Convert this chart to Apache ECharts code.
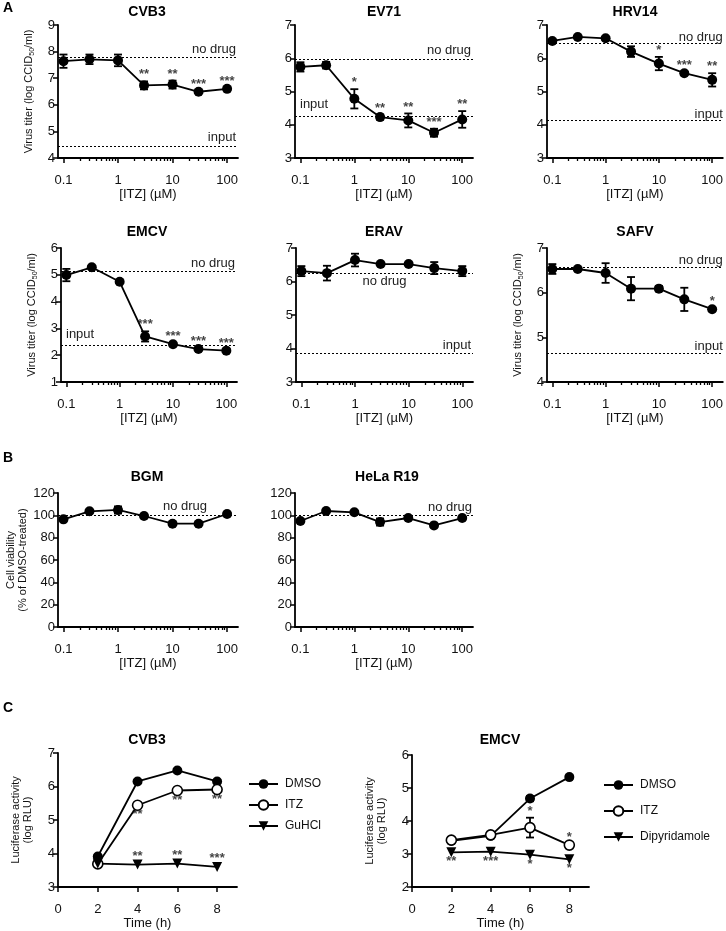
<!DOCTYPE html>
<html><head><meta charset="utf-8">
<script src="https://cdn.jsdelivr.net/npm/echarts@6/dist/echarts.min.js"></script>
<style>html,body{margin:0;padding:0;background:#fff}#c{width:726px;height:931px}</style>
</head><body><div id="c"></div><script>
const FONT = '"Liberation Sans", Arial, sans-serif';

// ---------- Data ----------
const conc = [0.1, 0.3, 1, 3, 10, 30, 100];
const concTickValues = [0.1, 1, 10, 100];
const concTickLabels = ['0.1', '1', '10', '100'];

const cvb3Titer = [7.64, 7.71, 7.67, 6.73, 6.76, 6.49, 6.60];
const cvb3Err   = [0.25, 0.18, 0.22, 0.15, 0.15, 0.05, 0.05];
const cvb3Stars = ['', '', '', '**', '**', '***', '***'];
const cvb3NoDrug = 7.78, cvb3Input = 4.45;

const ev71Titer = [5.74, 5.79, 4.78, 4.23, 4.13, 3.76, 4.16];
const ev71Err   = [0.14, 0.10, 0.29, 0.08, 0.21, 0.12, 0.25];
const ev71Stars = ['', '', '*', '**', '**', '***', '**'];
const ev71NoDrug = 5.97, ev71Input = 4.26;

const hrv14Titer = [6.52, 6.64, 6.60, 6.20, 5.84, 5.55, 5.35];
const hrv14Err   = [0.04, 0.03, 0.03, 0.16, 0.20, 0.05, 0.20];
const hrv14Stars = ['', '', '', '', '*', '***', '**'];
const hrv14NoDrug = 6.44, hrv14Input = 4.13;

const emcvTiter = [4.99, 5.28, 4.74, 2.70, 2.41, 2.23, 2.17];
const emcvErr   = [0.23, 0.03, 0.03, 0.19, 0.05, 0.05, 0.04];
const emcvStars = ['', '', '', '***', '***', '***', '***'];
const emcvNoDrug = 5.12, emcvInput = 2.36;

const eravTiter = [6.31, 6.25, 6.64, 6.52, 6.52, 6.40, 6.31];
const eravErr   = [0.15, 0.22, 0.19, 0.03, 0.03, 0.18, 0.15];
const eravStars = ['', '', '', '', '', '', ''];
const eravNoDrug = 6.25, eravInput = 3.85;

const safvTiter = [6.53, 6.53, 6.44, 6.09, 6.09, 5.85, 5.63];
const safvErr   = [0.11, 0.02, 0.22, 0.26, 0.06, 0.26, 0.02];
const safvStars = ['', '', '', '', '', '', '*'];
const safvNoDrug = 6.58, safvInput = 4.64;

const bgmViability = [96.4, 103.6, 104.8, 99.4, 92.5, 92.5, 101.2];
const bgmErr       = [1.0, 1.0, 3.2, 1.0, 1.0, 1.0, 1.0];
const helaViability = [94.9, 103.9, 102.7, 94.0, 97.6, 91.0, 97.6];
const helaErr       = [1.0, 1.0, 1.0, 3.2, 1.0, 1.0, 1.0];
const viabilityNoDrug = 100;

const timeH = [2, 4, 6, 8];
const timeTicks = [0, 2, 4, 6, 8];
const cCvb3DMSO  = [3.91, 6.15, 6.48, 6.15];
const cCvb3ITZ   = [3.69, 5.44, 5.88, 5.91];
const cCvb3GuHCl = [3.70, 3.67, 3.70, 3.60];
const cCvb3ITZStars   = ['', '**', '**', '**'];
const cCvb3GuHClStars = ['', '**', '**', '***'];

const cEmcvDMSO = [3.40, 3.55, 4.68, 5.33];
const cEmcvDMSOErr = [0, 0, 0.08, 0.05];
const cEmcvITZ  = [3.42, 3.58, 3.80, 3.27];
const cEmcvITZErr = [0, 0.04, 0.30, 0.05];
const cEmcvDip  = [3.05, 3.07, 2.98, 2.84];
const cEmcvITZStars = ['', '', '*', '*'];
const cEmcvDipStars = ['**', '***', '*', '*'];

// ---------- helpers ----------
const log10 = v => Math.log10(v);
const minorLog = [];
[-1, 0, 1].forEach(d => { for (let k = 2; k <= 9; k++) minorLog.push(Math.log10(k) + d); });

const grids = [], xAxes = [], yAxes = [], series = [];
const LW = 1.8;

function renderErr(params, api) {
  const x = api.value(0), lo = api.value(1), hi = api.value(2);
  const p1 = api.coord([x, lo]), p2 = api.coord([x, hi]);
  if (Math.abs(p1[1] - p2[1]) < 1) return null;
  const w = 4;
  const st = { stroke: '#000', lineWidth: LW };
  return { type: 'group', children: [
    { type: 'line', shape: { x1: p1[0], y1: p1[1], x2: p2[0], y2: p2[1] }, style: st },
    { type: 'line', shape: { x1: p1[0] - w, y1: p1[1], x2: p1[0] + w, y2: p1[1] }, style: st },
    { type: 'line', shape: { x1: p2[0] - w, y1: p2[1], x2: p2[0] + w, y2: p2[1] }, style: st }
  ]};
}

function errSeries(xi, yi, xs, ys, es) {
  return { type: 'custom', xAxisIndex: xi, yAxisIndex: yi, renderItem: renderErr, silent: true,
    encode: { x: 0, y: [1, 2] }, z: 2,
    data: xs.map((x, i) => [x, ys[i] - es[i], ys[i] + es[i]]) };
}

function starSeries(xi, yi, xs, ys, stars, pos, dist) {
  const data = [];
  xs.forEach((x, i) => { if (stars[i]) data.push([x, ys[i], stars[i]]); });
  return { type: 'scatter', xAxisIndex: xi, yAxisIndex: yi, symbolSize: 1, silent: true, z: 5,
    itemStyle: { color: 'rgba(0,0,0,0)' },
    label: { show: true, position: pos, distance: dist, formatter: p => p.value[2],
      color: '#111', fontSize: 13, fontWeight: 'bold', fontFamily: FONT, lineHeight: 10 },
    data };
}

function yAxisBase(gi, min, max, interval) {
  return { gridIndex: gi, type: 'value', min, max, interval,
    axisLine: { show: true, onZero: false, lineStyle: { color: '#000', width: 1.8 } },
    axisTick: { show: true, inside: false, length: 5, lineStyle: { color: '#000', width: 1.5 } },
    axisLabel: { color: '#111', fontSize: 13, fontFamily: FONT, margin: 3 },
    splitLine: { show: false } };
}

const titerName = '{n|Virus titer (log CCID}{s|50}{n|/ml)}';
const titerRich = { n: { fontSize: 11, fontFamily: FONT, color: '#111', lineHeight: 15, verticalAlign: 'middle' },
                    s: { fontSize: 7, fontFamily: FONT, color: '#111', lineHeight: 8, verticalAlign: 'bottom' } };

function refLine(value, text, pos, dist) {
  return { yAxis: value, label: { show: true, formatter: text, position: pos, distance: dist === undefined ? 2 : dist,
    color: '#222', fontSize: 13, fontFamily: FONT } };
}

function dosePanel(p) {
  const gi = grids.length;
  grids.push(p.grid);
  const xi = xAxes.length;
  xAxes.push({ gridIndex: gi, type: 'value', position: 'bottom', min: -1.1, max: 2.2,
    axisLine: { show: true, onZero: false, lineStyle: { color: '#000', width: 1.8 } },
    axisTick: { show: true, inside: false, length: 5, customValues: concTickValues.map(log10), lineStyle: { color: '#000', width: 1.5 } },
    axisLabel: { show: true, customValues: concTickValues.map(log10), margin: 16, color: '#111', fontSize: 13, fontFamily: FONT,
      formatter: v => concTickLabels[concTickValues.map(log10).findIndex(t => Math.abs(t - v) < 1e-6)] || '' },
    splitLine: { show: false },
    name: '[ITZ] (µM)', nameLocation: 'middle', nameGap: 30,
    nameTextStyle: { color: '#111', fontSize: 13, fontFamily: FONT } });
  xAxes.push({ gridIndex: gi, type: 'value', position: 'bottom', min: -1.1, max: 2.2,
    axisLine: { show: false, onZero: false },
    axisTick: { show: true, inside: false, length: 3, customValues: minorLog, lineStyle: { color: '#000', width: 1.3 } },
    axisLabel: { show: false }, splitLine: { show: false } });
  const yi = yAxes.length;
  const ya = yAxisBase(gi, p.yMin, p.yMax, p.yInt);
  if (p.yName === 'titer') {
    ya.name = titerName; ya.nameLocation = 'middle'; ya.nameGap = 22;
    ya.nameTextStyle = { rich: titerRich };
  } else if (p.yName === 'viab') {
    ya.name = 'Cell viability\n(% of DMSO-treated)'; ya.nameLocation = 'middle'; ya.nameGap = 28;
    ya.nameTextStyle = { fontSize: 11, lineHeight: 12, fontFamily: FONT, color: '#111' };
  }
  yAxes.push(ya);
  const xs = conc.map(log10);
  series.push(errSeries(xi, yi, xs, p.y, p.e));
  series.push({ type: 'line', xAxisIndex: xi, yAxisIndex: yi, data: xs.map((x, i) => [x, p.y[i]]),
    symbol: 'circle', symbolSize: 10, itemStyle: { color: '#000' }, lineStyle: { color: '#000', width: LW }, z: 3,
    silent: true, animation: false,
    markLine: { silent: true, symbol: 'none', animation: false,
      lineStyle: { type: [2, 2], color: '#000', width: 1 },
      data: p.refs } });
  if (p.s) series.push(starSeries(xi, yi, xs, p.y.map((v, i) => v + p.e[i]), p.s, 'top', 1));
}

const row1 = { top: 25, height: 133 };
const row2 = { top: 248, height: 134 };
dosePanel({ grid: { left: 58, width: 180, ...row1 }, yMin: 4, yMax: 9, yInt: 1, y: cvb3Titer, e: cvb3Err, s: cvb3Stars, yName: 'titer',
  refs: [refLine(cvb3NoDrug, 'no drug', 'insideEndTop'), refLine(cvb3Input, 'input', 'insideEndTop')] });
dosePanel({ grid: { left: 295, width: 178, ...row1 }, yMin: 3, yMax: 7, yInt: 1, y: ev71Titer, e: ev71Err, s: ev71Stars,
  refs: [refLine(ev71NoDrug, 'no drug', 'insideEndTop'), refLine(ev71Input, 'input', 'insideStartTop', 5)] });
dosePanel({ grid: { left: 547, width: 179, ...row1 }, yMin: 3, yMax: 7, yInt: 1, y: hrv14Titer, e: hrv14Err, s: hrv14Stars,
  refs: [refLine(hrv14NoDrug, 'no drug', 'insideEndTop', 0), refLine(hrv14Input, 'input', 'insideEndTop', 0)] });
dosePanel({ grid: { left: 61, width: 176, ...row2 }, yMin: 1, yMax: 6, yInt: 1, y: emcvTiter, e: emcvErr, s: emcvStars, yName: 'titer',
  refs: [refLine(emcvNoDrug, 'no drug', 'insideEndTop'), refLine(emcvInput, 'input', 'insideStartTop', 5)] });
dosePanel({ grid: { left: 296, width: 177, ...row2 }, yMin: 3, yMax: 7, yInt: 1, y: eravTiter, e: eravErr, s: eravStars,
  refs: [refLine(eravNoDrug, 'no drug', 'insideMiddleBottom'), refLine(eravInput, 'input', 'insideEndTop')] });
dosePanel({ grid: { left: 547, width: 178, ...row2 }, yMin: 4, yMax: 7, yInt: 1, y: safvTiter, e: safvErr, s: safvStars, yName: 'titer',
  refs: [refLine(safvNoDrug, 'no drug', 'insideEndTop', 0), refLine(safvInput, 'input', 'insideEndTop', 0)] });
dosePanel({ grid: { left: 58, width: 180, top: 493, height: 134 }, yMin: 0, yMax: 120, yInt: 20, y: bgmViability, e: bgmErr, yName: 'viab',
  refs: [refLine(viabilityNoDrug, 'no drug', 'insideEndTop', [31, 2])] });
dosePanel({ grid: { left: 295, width: 178, top: 493, height: 134 }, yMin: 0, yMax: 120, yInt: 20, y: helaViability, e: helaErr,
  refs: [refLine(viabilityNoDrug, 'no drug', 'insideEndTop', 1)] });

// ---------- Panel C ----------
function timePanel(p) {
  const gi = grids.length;
  grids.push(p.grid);
  const xi = xAxes.length;
  xAxes.push({ gridIndex: gi, type: 'value', position: 'bottom', min: 0, max: 9,
    axisLine: { show: true, onZero: false, lineStyle: { color: '#000', width: 1.8 } },
    axisTick: { show: true, inside: false, length: 5, customValues: timeTicks, lineStyle: { color: '#000', width: 1.5 } },
    axisLabel: { show: true, customValues: timeTicks, margin: 16, color: '#111', fontSize: 13, fontFamily: FONT },
    splitLine: { show: false },
    name: 'Time (h)', nameLocation: 'middle', nameGap: 30,
    nameTextStyle: { color: '#111', fontSize: 13, fontFamily: FONT } });
  const yi = yAxes.length;
  const ya = yAxisBase(gi, p.yMin, p.yMax, 1);
  ya.name = 'Luciferase activity\n(log RLU)'; ya.nameLocation = 'middle'; ya.nameGap = 24;
  ya.nameTextStyle = { fontSize: 11, lineHeight: 12, fontFamily: FONT, color: '#111' };
  yAxes.push(ya);
  p.lines.forEach(l => {
    if (l.err) series.push(errSeries(xi, yi, timeH, l.y, l.err));
    series.push({ type: 'line', name: l.name, xAxisIndex: xi, yAxisIndex: yi,
      data: timeH.map((t, i) => [t, l.y[i]]), symbol: l.symbol, symbolRotate: l.rotate || 0, symbolSize: l.size,
      itemStyle: l.open ? { color: '#fff', borderColor: '#000', borderWidth: 1.6 } : { color: '#000' },
      lineStyle: { color: '#000', width: LW }, z: 3, silent: true, animation: false });
    if (l.stars) {
      const base = l.y.map((v, i) => l.starPos === 'top' && l.err ? v + l.err[i] : v);
      series.push(starSeries(xi, yi, timeH, base, l.stars, l.starPos, l.starDist));
    }
  });
}

timePanel({ grid: { left: 58, width: 179, top: 753, height: 134 }, yMin: 3, yMax: 7,
  lines: [
    { name: 'DMSO', y: cCvb3DMSO, symbol: 'circle', size: 10 },
    { name: 'ITZ', y: cCvb3ITZ, symbol: 'circle', size: 10, open: true, stars: cCvb3ITZStars, starPos: 'bottom', starDist: 4 },
    { name: 'GuHCl', y: cCvb3GuHCl, symbol: 'triangle', rotate: 180, size: 10, stars: cCvb3GuHClStars, starPos: 'top', starDist: 3 }
  ] });
timePanel({ grid: { left: 412, width: 177, top: 755, height: 133 }, yMin: 2, yMax: 6,
  lines: [
    { name: 'DMSO', y: cEmcvDMSO, err: cEmcvDMSOErr, symbol: 'circle', size: 10 },
    { name: 'ITZ', y: cEmcvITZ, err: cEmcvITZErr, symbol: 'circle', size: 10, open: true, stars: cEmcvITZStars, starPos: 'top', starDist: 1 },
    { name: 'Dipyridamole', y: cEmcvDip, symbol: 'triangle', rotate: 180, size: 10, stars: cEmcvDipStars, starPos: 'bottom', starDist: 4 }
  ] });

// ---------- Titles and panel letters ----------
function txt(x, y, text, font, align) {
  return { type: 'text', x, y, silent: true,
    style: { text, fill: '#000', font, textAlign: align || 'center', textVerticalAlign: 'middle' } };
}
const TF = 'bold 14px ' + FONT;
const graphics = [
  txt(3, 8, 'A', TF, 'left'), txt(3, 458, 'B', TF, 'left'), txt(3, 708, 'C', TF, 'left'),
  txt(147, 12, 'CVB3', TF), txt(384, 12, 'EV71', TF), txt(635, 12, 'HRV14', TF),
  txt(147, 232, 'EMCV', TF), txt(384, 232, 'ERAV', TF), txt(635, 232, 'SAFV', TF),
  txt(147, 477, 'BGM', TF), txt(387, 477, 'HeLa R19', TF),
  txt(147, 740, 'CVB3', TF), txt(500, 740, 'EMCV', TF)
];

const legendBase = { orient: 'vertical', itemWidth: 29, itemHeight: 12, selectedMode: false,
  textStyle: { color: '#111', fontSize: 12, fontFamily: FONT, padding: [0, 0, 0, 2] } };

const chart = echarts.init(document.getElementById('c'), null, { renderer: 'canvas' });
chart.setOption({
  backgroundColor: '#fff',
  animation: false,
  grid: grids, xAxis: xAxes, yAxis: yAxes, series,
  legend: [
    { ...legendBase, left: 243, top: 773, itemGap: 9, data: ['DMSO', 'ITZ', 'GuHCl'] },
    { ...legendBase, left: 598, top: 774, itemGap: 14, data: ['DMSO', 'ITZ', 'Dipyridamole'] }
  ],
  graphic: graphics
});
</script></body></html>
